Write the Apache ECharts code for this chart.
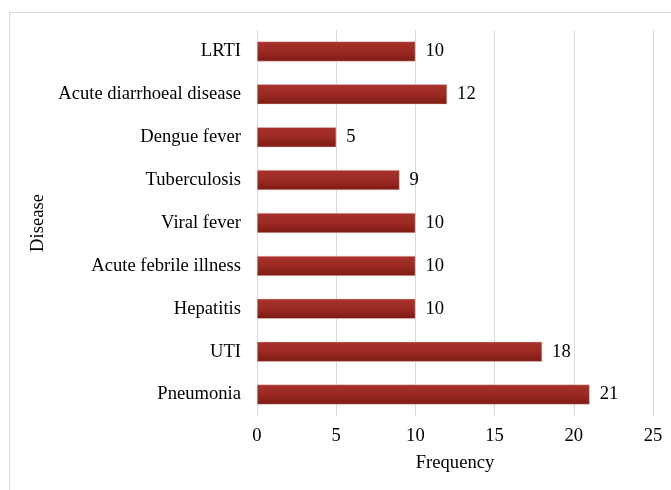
<!DOCTYPE html>
<html>
<head>
<meta charset="utf-8">
<script src="https://cdn.jsdelivr.net/npm/echarts@6/dist/echarts.min.js"></script>
<style>
  html, body { margin: 0; padding: 0; background: #ffffff; }
  #chart { width: 671px; height: 490px; }
</style>
</head>
<body>
<div id="chart"></div>
<script>
// Diseases listed bottom-to-top along the category axis
const diseases = [
  'Pneumonia', 'UTI', 'Hepatitis', 'Acute febrile illness', 'Viral fever',
  'Tuberculosis', 'Dengue fever', 'Acute diarrhoeal disease', 'LRTI'
];
const frequency = [21, 18, 10, 10, 10, 9, 5, 12, 10];
const freqTicks = [0, 5, 10, 15, 20, 25];

const serif = '"Liberation Serif", "Times New Roman", serif';
const fs = 18.6;
const chart = echarts.init(document.getElementById('chart'));

chart.setOption({
  animation: false,
  backgroundColor: '#ffffff',
  textStyle: { fontFamily: serif, color: '#000' },
  graphic: [{
    type: 'rect',
    shape: { x: 9.5, y: 12.5, width: 700, height: 500 },
    style: { fill: 'none', stroke: '#d9d9d9', lineWidth: 1 },
    silent: true
  }],
  grid: { left: 257, right: 18, top: 30, bottom: 74 },
  xAxis: {
    type: 'value',
    min: freqTicks[0],
    max: freqTicks[freqTicks.length - 1],
    interval: 5,
    name: 'Frequency',
    nameLocation: 'middle',
    nameGap: 38,
    nameTextStyle: { fontFamily: serif, fontSize: fs, color: '#000' },
    axisLine: { show: false },
    axisTick: { show: false },
    axisLabel: { fontFamily: serif, fontSize: fs, color: '#000', margin: 11 },
    splitLine: { show: true, lineStyle: { color: '#d9d9d9', width: 1 } }
  },
  yAxis: {
    type: 'category',
    data: diseases,
    name: 'Disease',
    nameLocation: 'middle',
    nameRotate: 90,
    nameGap: 208,
    nameTextStyle: { fontFamily: serif, fontSize: fs, color: '#000' },
    axisLine: { show: true, lineStyle: { color: '#d9d9d9', width: 1 } },
    axisTick: { show: false },
    axisLabel: { fontFamily: serif, fontSize: fs, color: '#000', margin: 16 }
  },
  series: [{
    type: 'bar',
    data: frequency,
    barWidth: 20,
    itemStyle: {
      color: new echarts.graphic.LinearGradient(0, 0, 0, 1, [
        { offset: 0, color: '#a8322b' },
        { offset: 0.5, color: '#9a2a23' },
        { offset: 1, color: '#7e1a14' }
      ]),
      borderColor: '#e8c8c4',
      borderWidth: 0.5
    },
    label: {
      show: true,
      position: 'right',
      distance: 10,
      fontFamily: serif,
      fontSize: fs,
      color: '#000'
    }
  }]
});
</script>
</body>
</html>
